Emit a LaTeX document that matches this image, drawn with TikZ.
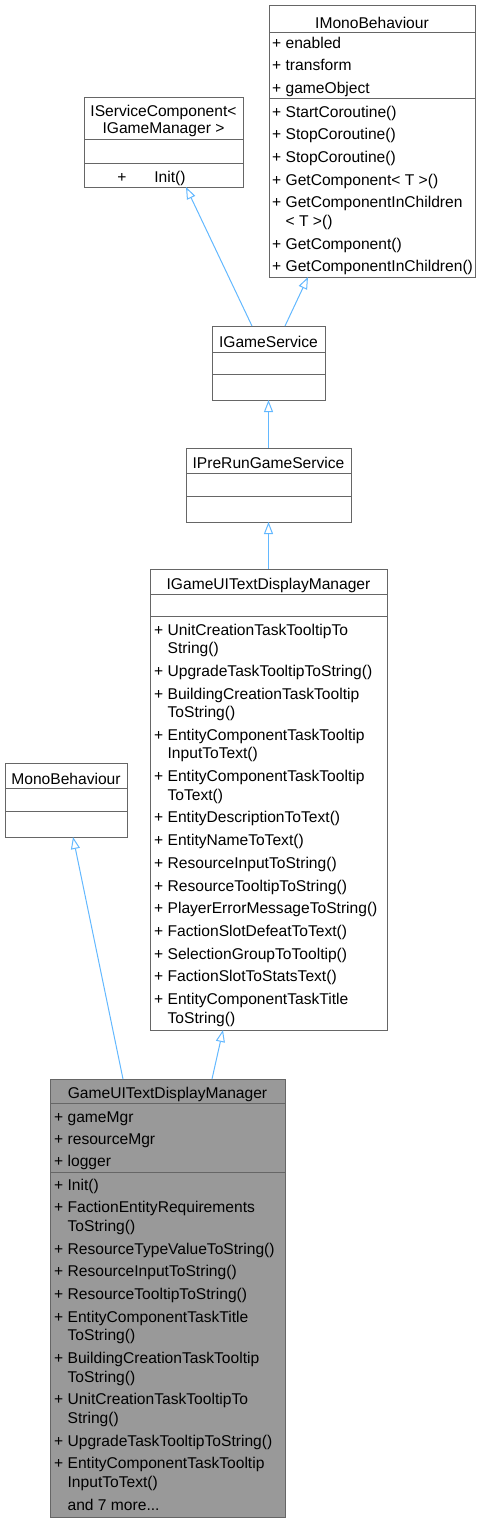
\documentclass[tikz,border=0pt]{standalone}
\usepackage{fontspec}
\setmainfont{Liberation Sans}
\usetikzlibrary{arrows.meta}
\definecolor{edge}{HTML}{63B8FF}
\definecolor{bord}{HTML}{666666}
\definecolor{cur}{HTML}{999999}
\tikzset{
  box/.style={draw=bord, line width=1pt, fill=white, inner sep=0pt, outer sep=0pt, anchor=north west},
  curbox/.style={box, fill=cur},
  sepline/.style={draw=bord, line width=1pt},
  txt/.style={inner sep=0pt, anchor=base west, font=\fontsize{15.6}{18}\selectfont},
  ttl/.style={inner sep=0pt, anchor=base, font=\fontsize{15.6}{18}\selectfont},
  inh/.style={draw=edge, line width=1pt, -{Triangle[open, length=12pt, width=9pt, fill=white]}},
}
\newcommand{\cont}{\phantom{+ }}
\begin{document}
\begin{tikzpicture}[x=1pt,y=-1pt]
\useasboundingbox (0,0) rectangle (482,1523);

% ---------- IMonoBehaviour ----------
\node[box, minimum width=206pt, minimum height=272pt] (imb) at (269,5) {};
\draw[sepline] (imb.west |- 0,32) -- (imb.east |- 0,32);
\draw[sepline] (imb.west |- 0,98) -- (imb.east |- 0,98);
\node[ttl] (imbt) at (372,28) {IMonoBehaviour};
\node[txt] (imba1) at (272,48) {+ enabled};
\node[txt] (imba2) at (272,70.5) {+ transform};
\node[txt] (imba3) at (272,93) {+ gameObject};
\node[txt] (imbm1) at (272,117) {+ StartCoroutine()};
\node[txt] (imbm2) at (272,139.7) {+ StopCoroutine()};
\node[txt] (imbm3) at (272,162.4) {+ StopCoroutine()};
\node[txt] (imbm4) at (272,185.1) {+ GetComponent< T >()};
\node[txt] (imbm5) at (272,207.8) {+ GetComponentInChildren};
\node[txt] (imbm5b) at (272,226.4) {\cont< T >()};
\node[txt] (imbm6) at (272,249.1) {+ GetComponent()};
\node[txt] (imbm7) at (272,271.8) {+ GetComponentInChildren()};

% ---------- IServiceComponent ----------
\node[box, minimum width=159pt, minimum height=90pt] (isc) at (84,97) {};
\draw[sepline] (isc.west |- 0,139) -- (isc.east |- 0,139);
\draw[sepline] (isc.west |- 0,163) -- (isc.east |- 0,163);
\node[ttl] (isct1) at (163.5,116) {IServiceComponent<};
\node[ttl] (isct2) at (163.5,133) {IGameManager >};
\node[ttl] (iscp) at (122,182) {+};
\node[ttl] (iscm) at (170,182) {Init()};

% ---------- IGameService ----------
\node[box, minimum width=113pt, minimum height=74pt] (igs) at (212,326) {};
\draw[sepline] (igs.west |- 0,352) -- (igs.east |- 0,352);
\draw[sepline] (igs.west |- 0,374) -- (igs.east |- 0,374);
\node[ttl] (igst) at (268.5,347) {IGameService};

% ---------- IPreRunGameService ----------
\node[box, minimum width=165pt, minimum height=74pt] (ipr) at (186,448) {};
\draw[sepline] (ipr.west |- 0,473) -- (ipr.east |- 0,473);
\draw[sepline] (ipr.west |- 0,496) -- (ipr.east |- 0,496);
\node[ttl] (iprt) at (268.5,468) {IPreRunGameService};

% ---------- IGameUITextDisplayManager ----------
\node[box, minimum width=237pt, minimum height=461pt] (igui) at (150,569) {};
\draw[sepline] (igui.west |- 0,594) -- (igui.east |- 0,594);
\draw[sepline] (igui.west |- 0,616) -- (igui.east |- 0,616);
\node[ttl] (iguit) at (268.5,589) {IGameUITextDisplayManager};
\node[txt] (igui1) at (154,635) {+ UnitCreationTaskTooltipTo};
\node[txt] (igui1b) at (154,653.6) {\cont String()};
\node[txt] (igui2) at (154,676.3) {+ UpgradeTaskTooltipToString()};
\node[txt] (igui3) at (154,699) {+ BuildingCreationTaskTooltip};
\node[txt] (igui3b) at (154,717.6) {\cont ToString()};
\node[txt] (igui4) at (154,740.3) {+ EntityComponentTaskTooltip};
\node[txt] (igui4b) at (154,758.9) {\cont InputToText()};
\node[txt] (igui5) at (154,781.6) {+ EntityComponentTaskTooltip};
\node[txt] (igui5b) at (154,800.2) {\cont ToText()};
\node[txt] (igui6) at (154,822.9) {+ EntityDescriptionToText()};
\node[txt] (igui7) at (154,845.6) {+ EntityNameToText()};
\node[txt] (igui8) at (154,868.3) {+ ResourceInputToString()};
\node[txt] (igui9) at (154,891) {+ ResourceTooltipToString()};
\node[txt] (igui10) at (154,913.7) {+ PlayerErrorMessageToString()};
\node[txt] (igui11) at (154,936.4) {+ FactionSlotDefeatToText()};
\node[txt] (igui12) at (154,959.1) {+ SelectionGroupToTooltip()};
\node[txt] (igui13) at (154,981.8) {+ FactionSlotToStatsText()};
\node[txt] (igui14) at (154,1004.5) {+ EntityComponentTaskTitle};
\node[txt] (igui14b) at (154,1023.1) {\cont ToString()};

% ---------- MonoBehaviour ----------
\node[box, minimum width=122pt, minimum height=74pt] (mb) at (5,763) {};
\draw[sepline] (mb.west |- 0,788) -- (mb.east |- 0,788);
\draw[sepline] (mb.west |- 0,811) -- (mb.east |- 0,811);
\node[ttl] (mbt) at (66,784) {MonoBehaviour};

% ---------- GameUITextDisplayManager ----------
\node[curbox, minimum width=235pt, minimum height=438pt] (gui) at (50,1079) {};
\draw[sepline] (gui.west |- 0,1103) -- (gui.east |- 0,1103);
\draw[sepline] (gui.west |- 0,1172) -- (gui.east |- 0,1172);
\node[ttl] (guit) at (167.5,1098) {GameUITextDisplayManager};
\node[txt] (guia1) at (54,1122) {+ gameMgr};
\node[txt] (guia2) at (54,1144) {+ resourceMgr};
\node[txt] (guia3) at (54,1166) {+ logger};
\node[txt] (gui1) at (54,1190) {+ Init()};
\node[txt] (gui2) at (54,1212.7) {+ FactionEntityRequirements};
\node[txt] (gui2b) at (54,1231.3) {\cont ToString()};
\node[txt] (gui3) at (54,1254) {+ ResourceTypeValueToString()};
\node[txt] (gui4) at (54,1276.7) {+ ResourceInputToString()};
\node[txt] (gui5) at (54,1299.4) {+ ResourceTooltipToString()};
\node[txt] (gui6) at (54,1322.1) {+ EntityComponentTaskTitle};
\node[txt] (gui6b) at (54,1340.7) {\cont ToString()};
\node[txt] (gui7) at (54,1363.4) {+ BuildingCreationTaskTooltip};
\node[txt] (gui7b) at (54,1382) {\cont ToString()};
\node[txt] (gui8) at (54,1404.7) {+ UnitCreationTaskTooltipTo};
\node[txt] (gui8b) at (54,1423.3) {\cont String()};
\node[txt] (gui9) at (54,1446) {+ UpgradeTaskTooltipToString()};
\node[txt] (gui10) at (54,1468.7) {+ EntityComponentTaskTooltip};
\node[txt] (gui10b) at (54,1487.3) {\cont InputToText()};
\node[txt] (gui11) at (54,1510) {\cont and 7 more...};

% ---------- inheritance edges ----------
\draw[inh] ([xshift=-16.5pt]igs.north) -- ([xshift=22.5pt]isc.south);
\draw[inh] ([xshift=16.5pt]igs.north) -- ([xshift=-64pt]imb.south);
\draw[inh] (ipr.north) -- (igs.south);
\draw[inh] (igui.north) -- (ipr.south);
\draw[inh] ([xshift=-44.5pt]gui.north) -- ([xshift=7pt]mb.south);
\draw[inh] ([xshift=44.5pt]gui.north) -- ([xshift=-45.5pt]igui.south);
\end{tikzpicture}
\end{document}
